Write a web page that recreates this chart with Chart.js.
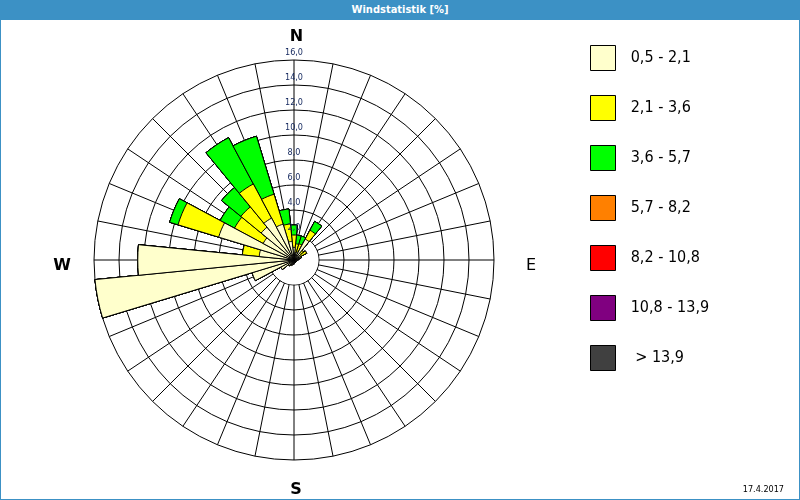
<!DOCTYPE html>
<html>
<head>
<meta charset="utf-8">
<script src="https://cdn.jsdelivr.net/npm/chart.js@4.4.1/dist/chart.umd.min.js"></script>
<style>
html,body{margin:0;padding:0;background:#fff;}
#wrap{position:relative;width:800px;height:500px;overflow:hidden;background:#fff;}
#c{position:absolute;left:0;top:0;}
#hdr{position:absolute;left:0;top:0;width:800px;height:20px;background:#3c91c5;color:#fff;
  font:bold 11px "DejaVu Sans Condensed","DejaVu Sans",sans-serif;line-height:20px;text-align:center;}
#frame{position:absolute;left:0;top:0;width:800px;height:500px;box-sizing:border-box;border:1px solid #3c91c5;pointer-events:none;}
#date{position:absolute;right:16px;top:483px;font:9px "DejaVu Sans Condensed","DejaVu Sans",sans-serif;line-height:12px;color:#000;}
</style>
</head>
<body>
<div id="wrap">
  <canvas id="c" width="800" height="500"></canvas>
  <div id="hdr">Windstatistik [%]</div>
  <div id="date">17.4.2017</div>
  <div id="frame"></div>
</div>
<script>
// ---- data ----
const directions = ['N','NzO','NNO','NOzN','NO','NOzO','ONO','OzN','O','OzS','OSO','SOzO','SO','SOzS','SSO','SzO',
                    'S','SzW','SSW','SWzS','SW','SWzW','WSW','WzS','W','WzN','WNW','NWzW','NW','NWzN','NNW','NzW'];
const classLabels = ['0,5 - 2,1','2,1 - 3,6','3,6 - 5,7','5,7 - 8,2','8,2 - 10,8','10,8 - 13,9',' > 13,9'];
const classColors = ['#FFFFCC','#FFFF00','#00FF00','#FF8000','#FF0000','#800080','#404040'];

const speed_05_21 = [1.0,0.6,0.7,1.9,0.7,0.6,0.5,0.4,0.3,0.2,0.2,0.2,0.2,0.2,0.2,0.2,
                     0.3,0.3,0.4,0.5,0.6,1.2,3.5,16.0,12.5,2.8,6.3,2.8,3.4,3.8,3.0,1.5];
const speed_21_36 = [1.0,0.7,0.65,0.8,0.3,0.55,0.1,0,0,0,0,0,0,0,0,0,
                     0,0,0,0,0,0,0,0,0,1.35,3.4,2.6,2.1,3.1,2.5,1.4];
const speed_36_57 = [0.8,0.7,0.65,0.8,0,0,0,0,0,0,0,0,0,0,0,0,
                     0,0,0,0,0,0,0,0,0,0,0.7,1.3,2.0,4.2,4.85,1.2];
const speed_57_82 = [0,0,0,0,0,0,0,0,0,0,0,0,0,0,0,0,0,0,0,0,0,0,0,0,0,0,0,0,0,0,0,0];
const speed_82_108 = [0,0,0,0,0,0,0,0,0,0,0,0,0,0,0,0,0,0,0,0,0,0,0,0,0,0,0,0,0,0,0,0];
const speed_108_139 = [0,0,0,0,0,0,0,0,0,0,0,0,0,0,0,0,0,0,0,0,0,0,0,0,0,0,0,0,0,0,0,0];
const speed_139_up = [0,0,0,0,0,0,0,0,0,0,0,0,0,0,0,0,0,0,0,0,0,0,0,0,0,0,0,0,0,0,0,0];

const rTickValues = [2,4,6,8,10,12,14,16];
const rTickLabels = ['2,0','4,0','6,0','8,0','10,0','12,0','14,0','16,0'];
const compassLabels = ['N','E','S','W'];

// ---- build stacked (cumulative) datasets ----
const classSeries = [speed_05_21,speed_21_36,speed_36_57,speed_57_82,speed_82_108,speed_108_139,speed_139_up];
const cumulative = [];
classSeries.forEach((s, k) => {
  cumulative.push(s.map((v, i) => +(v + (k ? cumulative[k-1][i] : 0)).toFixed(3)));
});

const FAM = '"DejaVu Sans Condensed","DejaVu Sans",sans-serif';
const LEG_SIZE = 16, BOX = 25, LEG_PAD = 25, PREFIX = '\u2002';

// measure legend text to place the legend column
const mctx = document.createElement('canvas').getContext('2d');
mctx.font = LEG_SIZE + 'px ' + FAM;
const maxText = Math.max(...classLabels.map(t => mctx.measureText(PREFIX + t).width));
const itemW = BOX + LEG_SIZE / 2 + maxText;
const padRight = 199.5 - itemW;

const datasets = classSeries.map((s, k) => ({
  label: classLabels[k],
  data: cumulative[k],
  backgroundColor: classColors[k],
  borderColor: '#000',
  borderWidth: 1,
  rAxisID: 'r'
}));

const tickSizing = {
  display: true, stepSize: 2, color: 'rgba(0,0,0,0)', showLabelBackdrop: false,
  font: {size: 10}, backdropPadding: {top: 34.75, bottom: 34.75, left: 0, right: 0}
};

const decorPlugin = {
  id: 'decor',
  beforeDatasetsDraw(chart) {
    const s = chart.scales.r2, ctx = chart.ctx;
    const rr = s.getDistanceFromCenterForValue(rTickValues[0]) - 0.5;
    ctx.save();
    ctx.beginPath();
    ctx.arc(s.xCenter, s.yCenter, rr, 0, Math.PI * 2);
    ctx.fillStyle = '#fff';
    ctx.fill();
    ctx.restore();
  },
  afterDatasetsDraw(chart) {
    const s = chart.scales.r2, ctx = chart.ctx;
    ctx.save();
    ctx.font = '9px ' + FAM;
    ctx.fillStyle = '#14285e';
    ctx.textAlign = 'center';
    ctx.textBaseline = 'middle';
    rTickValues.forEach((v, i) => {
      ctx.fillText(rTickLabels[i], s.xCenter, s.yCenter - s.getDistanceFromCenterForValue(v) - 7);
    });
    ctx.restore();
  },
  afterDraw(chart) {
    const s = chart.scales.r2, ctx = chart.ctx;
    const R = s.drawingArea;
    ctx.save();
    ctx.fillStyle = '#000';
    ctx.textAlign = 'center';
    ctx.textBaseline = 'alphabetic';
    ctx.font = 'bold 16px "DejaVu Sans",sans-serif';
    ctx.fillText(compassLabels[0], s.xCenter + 2.5, s.yCenter - R - 19);
    ctx.fillText(compassLabels[2], s.xCenter + 2, s.yCenter + R + 34);
    ctx.fillText(compassLabels[3], s.xCenter - R - 32, s.yCenter + 10);
    ctx.font = '16px "DejaVu Sans",sans-serif';
    ctx.fillText(compassLabels[1], s.xCenter + R + 37, s.yCenter + 10);
    ctx.restore();
  }
};

new Chart(document.getElementById('c'), {
  type: 'polarArea',
  data: { labels: directions, datasets },
  plugins: [decorPlugin],
  options: {
    responsive: false,
    animation: false,
    events: [],
    layout: { padding: { top: 20.5, bottom: 0, left: 23, right: padRight } },
    scales: {
      r: {
        type: 'radialLinear', axis: 'r',
        min: 0, max: 16, startAngle: -5.625,
        ticks: tickSizing,
        grid: { display: true, circular: true, color: '#000', lineWidth: 1 },
        angleLines: { display: false },
        pointLabels: { display: false }
      },
      r2: {
        type: 'radialLinear', axis: 'r',
        min: 0, max: 16, startAngle: 0,
        ticks: tickSizing,
        grid: { display: false },
        angleLines: { display: true, color: '#000', lineWidth: 1 },
        pointLabels: { display: false }
      }
    },
    plugins: {
      title: { display: false },
      tooltip: { enabled: false },
      legend: {
        display: true,
        position: 'right',
        align: 'start',
        onClick: () => {},
        labels: {
          boxWidth: BOX, boxHeight: BOX, padding: LEG_PAD,
          font: { family: FAM, size: LEG_SIZE },
          color: '#000',
          generateLabels: (chart) => chart.data.datasets.map((ds, i) => ({
            text: PREFIX + ds.label,
            fillStyle: ds.backgroundColor,
            strokeStyle: '#000',
            lineWidth: 1,
            hidden: false,
            datasetIndex: i,
            fontColor: '#000'
          }))
        }
      }
    }
  }
});
</script>
</body>
</html>
